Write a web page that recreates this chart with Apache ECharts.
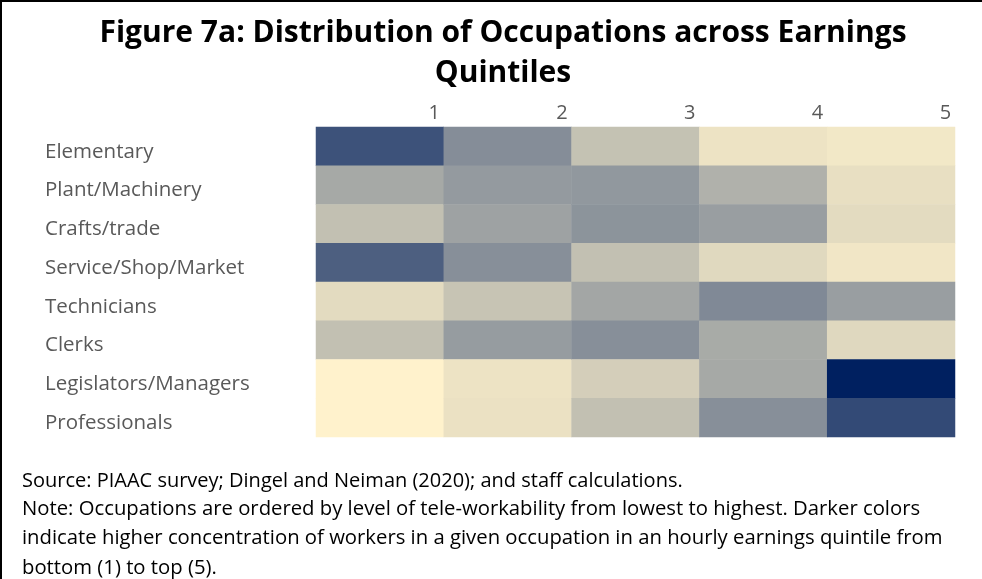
<!DOCTYPE html>
<html>
<head>
<meta charset="utf-8">
<script src="https://cdn.jsdelivr.net/npm/echarts@6/dist/echarts.min.js"></script>
<style>
html,body{margin:0;padding:0;background:#fff;}
#chart{width:982px;height:579px;}
</style>
</head>
<body>
<div id="chart"></div>
<script>
const occupations = ['Elementary','Plant/Machinery','Crafts/trade','Service/Shop/Market','Technicians','Clerks','Legislators/Managers','Professionals'];
const quintiles = ['1','2','3','4','5'];
// concentration index (0 = lightest, 100 = darkest), one array per quintile
const q1 = [76, 35, 24, 70, 11, 24, 0, 0];
const q2 = [48, 42, 38, 47, 22, 41, 7, 8];
const q3 = [23, 43, 45, 24, 36, 47, 17, 24];
const q4 = [7, 31, 40, 12, 50, 34, 35, 47];
const q5 = [5, 9, 11, 5.5, 40, 12.5, 100, 80];
const titleText = 'Figure 7a: Distribution of Occupations across Earnings\nQuintiles';
const sourceText = 'Source: PIAAC survey; Dingel and Neiman (2020); and staff calculations.';
const noteLines = [
  'Note: Occupations are ordered by level of tele-workability from lowest to highest. Darker colors',
  'indicate higher concentration of workers in a given occupation in an hourly earnings quintile from',
  'bottom (1) to top (5).'
];

const cols = [q1, q2, q3, q4, q5];
const data = [];
cols.forEach((col, xi) => col.forEach((v, yi) => data.push([xi, yi, v])));

const chart = echarts.init(document.getElementById('chart'));
const FONT = 'Open Sans';
chart.setOption({
  backgroundColor: '#ffffff',
  animation: false,
  title: {
    text: titleText,
    left: 498,
    textAlign: 'center',
    top: 8,
    textStyle: {fontFamily: FONT, fontWeight: 'bold', fontSize: 30, color: '#000', lineHeight: 40}
  },
  grid: {left: 316, right: 27, top: 127, bottom: 142},
  xAxis: {
    type: 'category',
    data: quintiles,
    position: 'top',
    axisLine: {show: false},
    axisTick: {show: false},
    splitLine: {show: false},
    axisLabel: {
      margin: 4,
      formatter: v => '{a|' + v + '}',
      rich: {a: {width: 120, align: 'right', fontFamily: FONT, fontSize: 20, color: '#595959'}}
    }
  },
  yAxis: {
    type: 'category',
    data: occupations,
    inverse: true,
    axisLine: {show: false},
    axisTick: {show: false},
    splitLine: {show: false},
    axisLabel: {
      align: 'left',
      margin: 271,
      formatter: v => '{a|' + v + '}',
      rich: {a: {fontFamily: FONT, fontSize: 20.5, color: '#595959', lineHeight: 22, padding: [11, 0, 0, 0]}}
    }
  },
  visualMap: {
    show: false,
    min: 0,
    max: 100,
    calculable: false,
    inRange: {color: ['#FFF2CC', '#002060']}
  },
  series: [{
    type: 'heatmap',
    data: data,
    itemStyle: {borderWidth: 0},
    emphasis: {disabled: true}
  }],
  graphic: [
    {type: 'line', shape: {x1: 0, y1: 1, x2: 982, y2: 1}, style: {stroke: '#000', lineWidth: 2}},
    {type: 'line', shape: {x1: 1, y1: 0, x2: 1, y2: 579}, style: {stroke: '#000', lineWidth: 2}},
    {type: 'text', left: 22, top: 471, style: {text: sourceText, font: '20px "Open Sans"', fill: '#000'}},
    {type: 'text', left: 22, top: 494, style: {text: noteLines.join('\n'), font: '20.3px "Open Sans"', fill: '#000', lineHeight: 29.5}}
  ]
});
</script>
</body>
</html>
